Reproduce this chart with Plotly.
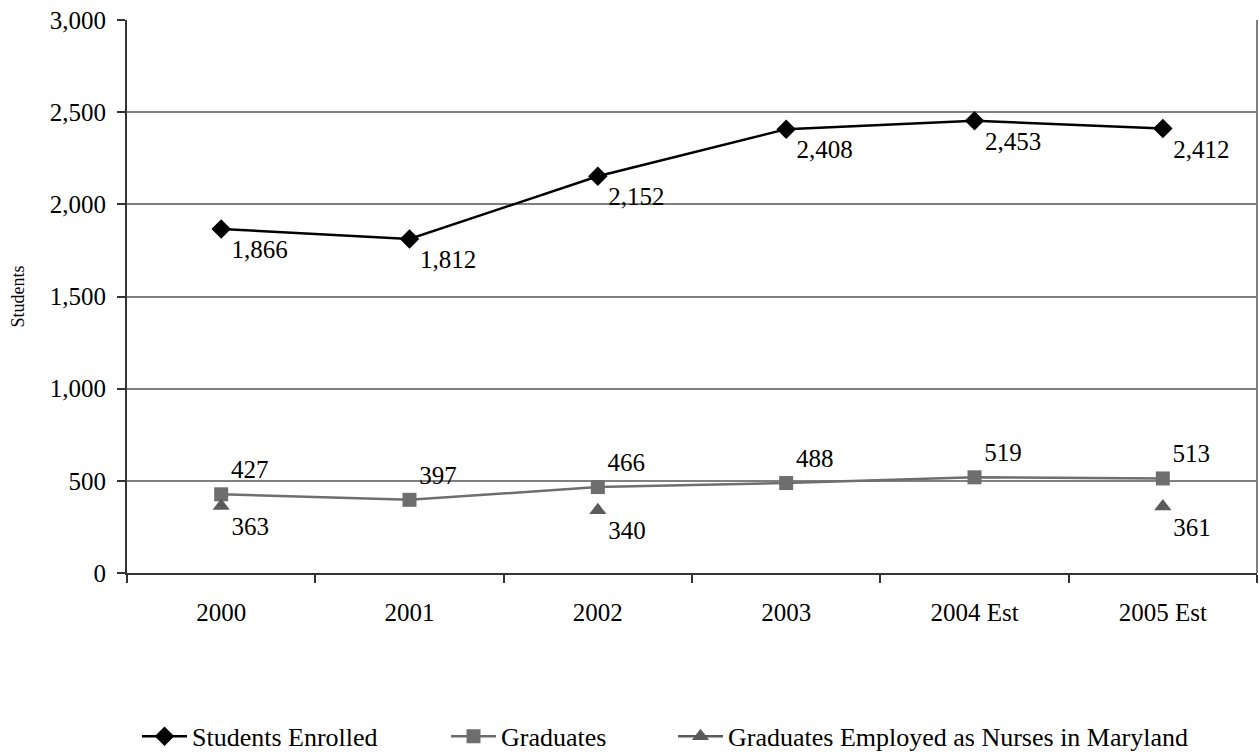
import plotly.graph_objects as go

years = ["2000", "2001", "2002", "2003", "2004 Est", "2005 Est"]
enrolled = [1866, 1812, 2152, 2408, 2453, 2412]
graduates = [427, 397, 466, 488, 519, 513]
employed_md = [363, None, 340, None, None, 361]

FONT = "Liberation Serif, Times New Roman, serif"
FS = 25


def labels(vals):
    return ["" if v is None else f"{v:,}" for v in vals]


fig = go.Figure()

fig.add_trace(go.Scatter(
    x=years, y=enrolled, name="Students Enrolled",
    mode="lines+markers+text", legend="legend",
    line=dict(color="#000000", width=2.5),
    marker=dict(symbol="diamond", size=15, color="#000000"),
    text=labels(enrolled), textposition="bottom right",
    textfont=dict(family=FONT, size=FS, color="#000000"),
))

fig.add_trace(go.Scatter(
    x=years, y=graduates, name="Graduates",
    mode="lines+markers+text", legend="legend2",
    line=dict(color="#6e6e6e", width=2.5),
    marker=dict(symbol="square", size=14, color="#6e6e6e"),
    text=labels(graduates), textposition="top right",
    textfont=dict(family=FONT, size=FS, color="#000000"),
))

fig.add_trace(go.Scatter(
    x=years, y=employed_md, name="Graduates Employed as Nurses in Maryland",
    mode="lines+markers+text", connectgaps=False, legend="legend3",
    line=dict(color="#5a5a5a", width=2.5),
    marker=dict(symbol="triangle-up", size=15, color="#5a5a5a"),
    text=labels(employed_md), textposition="bottom right",
    textfont=dict(family=FONT, size=FS, color="#000000"),
))

legend_style = dict(
    orientation="h", xref="container", yref="container",
    xanchor="left", yanchor="middle", y=0.026, itemwidth=45,
    font=dict(family=FONT, size=26, color="#000000"),
    bgcolor="rgba(0,0,0,0)",
)

fig.update_layout(
    width=1259, height=756,
    margin=dict(l=127, r=2, t=20, b=183, autoexpand=False),
    paper_bgcolor="white", plot_bgcolor="white",
    font=dict(family=FONT, size=FS, color="#000000"),
    showlegend=True,
    legend=dict(legend_style, x=137 / 1259),
    legend2=dict(legend_style, x=446 / 1259),
    legend3=dict(legend_style, x=673 / 1259),
    shapes=[dict(type="line", xref="paper", yref="paper", x0=1, x1=1, y0=0, y1=1,
                 line=dict(color="#808080", width=2))],
)

fig.update_xaxes(
    type="category", range=[-0.5, 5.5],
    showline=True, linecolor="#333333", linewidth=2,
    ticks="outside", tickson="boundaries", ticklen=8, tickcolor="#333333", tickwidth=1.5,
    ticklabelstandoff=16,
    showgrid=False, zeroline=False,
    tickfont=dict(family=FONT, size=FS, color="#000000"),
)

fig.update_yaxes(
    range=[0, 3000], dtick=500, tickformat=",",
    showline=True, linecolor="#333333", linewidth=2,
    ticks="outside", ticklen=8, tickcolor="#333333", tickwidth=1.5,
    ticklabelstandoff=6,
    showgrid=True, gridcolor="#808080", gridwidth=1.5,
    zeroline=False,
    tickfont=dict(family=FONT, size=FS, color="#000000"),
    title=dict(text="Students", font=dict(family=FONT, size=18, color="#000000"), standoff=20),
)

fig.write_html("out.html")
